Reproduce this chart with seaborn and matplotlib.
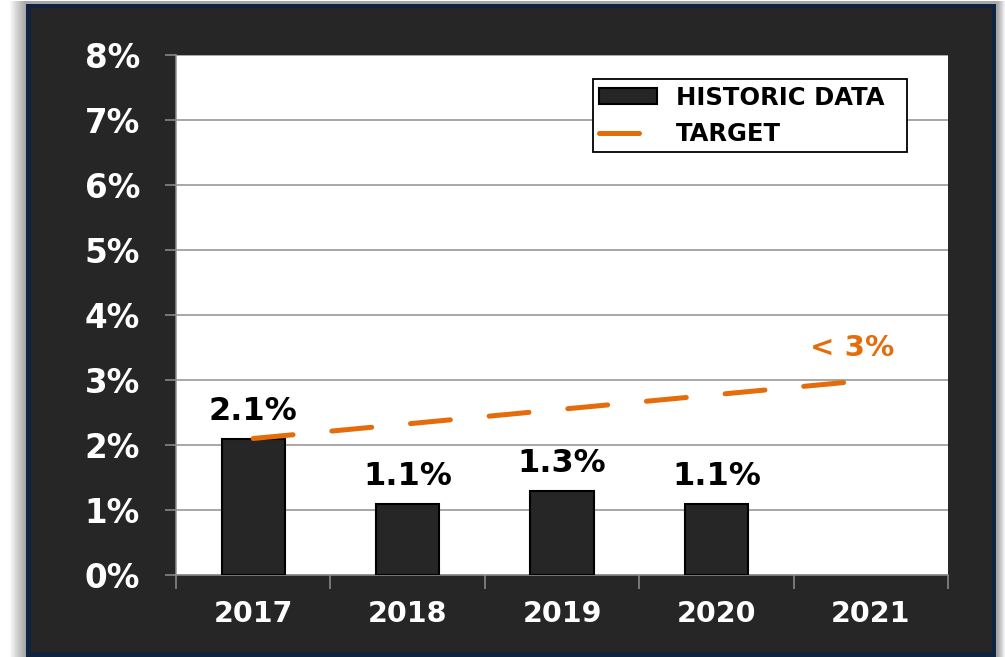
import matplotlib
matplotlib.use("Agg")
import matplotlib.pyplot as plt
import seaborn as sns
import pandas as pd
from matplotlib.patches import Rectangle, Patch
from matplotlib.lines import Line2D

# chart data
years = ["2017", "2018", "2019", "2020", "2021"]
hist_years = ["2017", "2018", "2019", "2020"]
hist_values = [2.1, 1.1, 1.3, 1.1]          # percent
target_years = ["2017", "2021"]
target_values = [2.1, 3.0]                   # percent
target_label = "< 3%"
y_ticks = [0, 1, 2, 3, 4, 5, 6, 7, 8]

dark = "#262626"
navy = "#10243f"
orange = "#E46C0A"
grid_gray = "#8f8f8f"

W, H = 1005, 657
fig = plt.figure(figsize=(W / 100, H / 100), dpi=100, facecolor="white")


def box(x0, y0, x1, y1, **kw):
    # pixel coords (top-left origin) -> figure rectangle, kept behind the axes
    return Rectangle((x0 / W, 1 - y1 / H), (x1 - x0) / W, (y1 - y0) / H,
                     transform=fig.transFigure, zorder=-10, **kw)


# soft shadow behind the frame (stacked translucent layers)
for i in range(16):
    fig.patches.append(box(10 + i, 1, 1005 - i * 0.5, 657,
                           facecolor="black", edgecolor="none", alpha=0.025))
fig.patches.append(box(26, 4, 996, 660, facecolor=navy, edgecolor="none"))
fig.patches.append(box(31, 8, 992, 652, facecolor=dark, edgecolor="none"))

ax = fig.add_axes([176 / W, (H - 575) / H, 772 / W, 520 / H])
ax.set_zorder(1)
ax.set_facecolor("white")

df = pd.DataFrame({"year": hist_years, "value": hist_values})
sns.barplot(data=df, x="year", y="value", order=years, color=dark,
            saturation=1, width=0.41, edgecolor="black", linewidth=1.5,
            ax=ax, zorder=3)

# target line
tx = [years.index(y) for y in target_years]
sns.lineplot(x=tx, y=target_values, ax=ax, color=orange, linewidth=3.6,
             zorder=4)
tline = ax.lines[-1]
tline.set_dashes((8, 7.8))
tline.set_dash_capstyle("round")

# bar value labels
for yr, v in zip(hist_years, hist_values):
    ax.annotate(f"{v}%", (years.index(yr), v), xytext=(0, 13),
                textcoords="offset points", ha="center", va="baseline",
                fontsize=23, fontweight="bold", color="black", zorder=5)

ax.text(3.88, 3.49, target_label, ha="center", va="center", fontsize=21,
        fontweight="bold", color=orange, zorder=5)

ax.set_xlim(-0.5, 4.5)
ax.set_ylim(0, 8)
ax.set_xlabel("")
ax.set_ylabel("")

ax.set_yticks(y_ticks)
ax.set_yticklabels([f"{t}%" for t in y_ticks])
ax.yaxis.grid(True, color=grid_gray, linewidth=1.1, zorder=0)
ax.set_axisbelow(True)

ax.set_xticks([i - 0.5 for i in range(len(years) + 1)])
ax.set_xticklabels([])
ax.set_xticks(range(len(years)), minor=True)
ax.set_xticklabels(years, minor=True)

ax.tick_params(axis="x", which="major", length=10, width=1.1, color=grid_gray)
ax.tick_params(axis="x", which="minor", length=0, pad=18, labelsize=20.5,
               labelcolor="white")
ax.tick_params(axis="y", length=8, width=1.1, color=grid_gray, pad=18,
               labelsize=23.5, labelcolor="white")
for lab in ax.get_xticklabels(minor=True) + ax.get_yticklabels():
    lab.set_fontweight("bold")

for side in ["top", "right"]:
    ax.spines[side].set_visible(False)
for side in ["left", "bottom"]:
    ax.spines[side].set_color(grid_gray)
    ax.spines[side].set_linewidth(1.1)

handles = [
    Patch(facecolor=dark, edgecolor="black", linewidth=1.5),
    Line2D([0], [0], color=orange, linewidth=3.6, dashes=(8, 7.8),
           dash_capstyle="round"),
]
leg = ax.legend(handles, ["HISTORIC DATA", "TARGET"], loc="upper left",
                bbox_to_anchor=(0.540, 0.815, 0.4067, 0.138), mode="expand",
                borderaxespad=0, borderpad=0.25, labelspacing=0.5,
                handlelength=2.4, handleheight=0.6, handletextpad=0.75,
                fancybox=False, framealpha=1, edgecolor="black",
                prop={"size": 17.5, "weight": "bold"})
leg.get_frame().set_linewidth(1.3)
leg.set_zorder(6)

fig.savefig("out.png", dpi=100, facecolor=fig.get_facecolor())
